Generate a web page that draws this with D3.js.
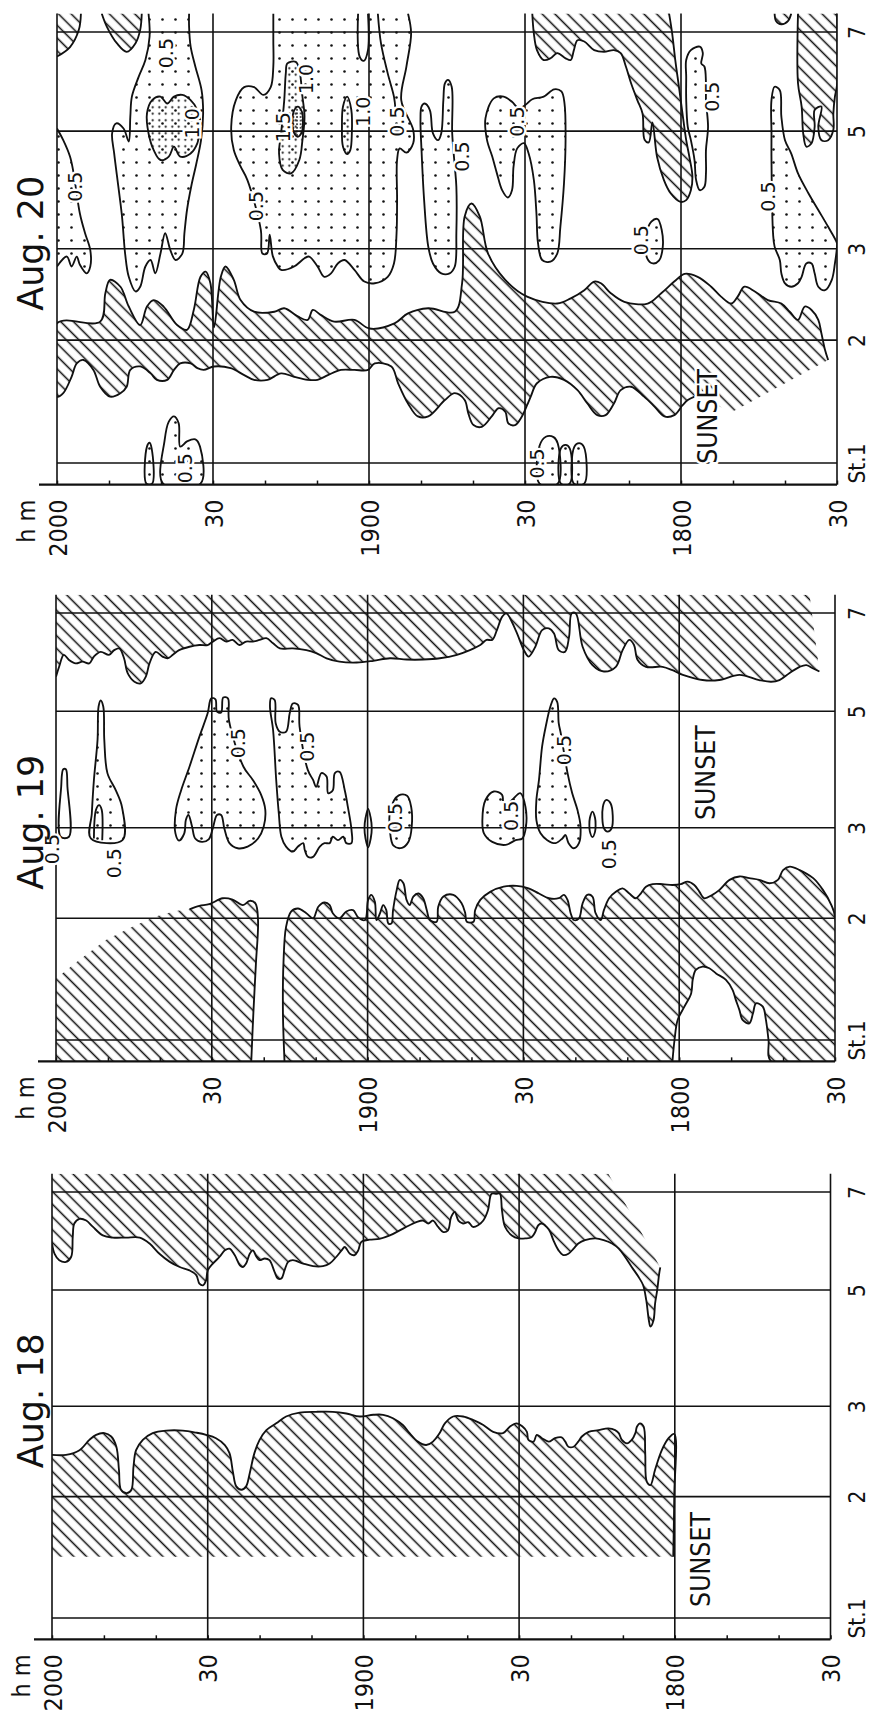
<!DOCTYPE html>
<html><head><meta charset="utf-8">
<script src="https://cdn.jsdelivr.net/npm/d3@7"></script>
<style>body{margin:0;background:#fff}svg{display:block}</style>
</head><body>
<script>
// ---------- DATA (time = minutes after 20:00 going back, station units: St.1 = 0, St.7 = 100) ----------
const timeTicks = [0, 30, 60, 90, 120, 150];
const timeLabels = ["2000", "30", "1900", "30", "1800", "30"];
const minorTicks = d3.range(0, 151, 10);
const stationNames = ["St.1", "2", "3", "5", "7"];
const stationPos = [0, 28.5, 49.7, 77.0, 100];
const panelTitles = ["Aug. 20", "Aug. 19", "Aug. 18"];
const sunsetAt = [[125, -0.2], [125, 51.5], [125, 2.6]];

// ---- Aug. 20 : hatched areas ----
const aug20BandLower = [[0,15.4],[1.2,16.2],[2.8,20.0],[3.8,23.1],[5.1,23.9],[7.0,21.6],[8.3,17.7],[10.2,15.4],[12.2,16.2],[13.4,17.7],[14.1,21.6],[16.0,22.4],[18.0,20.8],[19.2,19.3],[21.2,19.3],[22.5,21.6],[23.7,23.1],[25.7,23.1],[27.0,22.0],[28.2,21.6],[30.2,22.4],[33.4,22.0],[36.0,20.4],[37.9,19.3],[40.5,19.3],[43.1,20.8],[45.6,20.0],[48.2,19.3],[50.1,19.3],[52.1,20.4],[54.6,21.6],[57.2,21.6],[59.8,21.6],[61.1,23.1],[64.3,22.4],[65.6,18.5],[67.5,13.8],[69.4,10.8],[71.4,10.8],[74.6,14.6],[76.5,16.2],[78.4,14.6],[79.1,11.5],[80.1,8.8],[81.7,8.4],[83.6,10.8],[84.9,12.7],[86.2,11.9],[86.8,9.2],[88.1,8.8],[89.4,10.8],[90.4,13.4],[91.1,15.4],[92.3,18.5],[94.9,20.0],[97.5,19.3],[100.1,16.9],[102.0,13.8],[103.9,11.1],[105.5,11.1],[107.1,13.8],[108.4,16.9],[110.4,17.7],[112.9,15.4],[114.9,13.1],[116.8,10.8],[118.7,11.1],[120.3,13.4],[121.3,14.6],[122.6,15.4]];
const aug20BandUpper = [[0,32.4],[8.3,32.8],[9.3,39.4],[10.2,42.5],[12.2,40.9],[13.8,36.3],[16.0,32.0],[17.3,36.3],[18.6,37.8],[20.5,36.3],[23.1,32.0],[25.0,30.9],[26.3,35.5],[27.6,43.2],[28.6,44.4],[29.5,41.7],[30.2,31.5],[31.5,43.2],[32.4,45.6],[34.0,42.5],[35.3,37.8],[37.9,35.1],[41.8,35.1],[43.7,35.9],[46.3,34.0],[48.2,33.2],[49.2,35.5],[50.8,34.3],[53.3,32.8],[57.2,33.2],[60.1,31.2],[64.9,32.4],[67.5,34.7],[71.4,35.9],[76.5,35.1],[77.9,41.7],[78.4,57.2],[79.7,60.2],[81.3,57.2],[82.9,48.6],[86.2,42.5],[90.4,38.6],[96.2,37.0],[98.8,38.2],[101.4,40.1],[103.3,42.1],[104.6,41.7],[106.5,39.4],[109.1,37.4],[113.6,37.0],[116.2,39.4],[118.7,42.1],[120.7,43.9],[123.2,43.2],[125.8,40.9],[127.7,38.6],[129.7,37.0],[130.9,38.6],[132.2,40.9],[134.2,39.8],[136.7,37.8],[139.3,37.0],[140.9,35.1],[142.5,33.2],[143.8,36.3],[145.1,35.5],[146.4,33.2],[147.0,30.1],[147.7,26.2],[148.3,23.9]];
const aug20BandOpen = [[129.9,11.9]];
const aug20Corner = [[0,94.3],[2.5,96.5],[4.2,100.5],[4.6,104.3]];
const aug20CornerOpen = [[0,104.3]];
const aug20TopBlob = [[8.6,104.3],[9.6,101.2],[11.5,97.4],[13.4,95.4],[15.1,97.4],[16.0,100.5],[16.3,104.3]];
const aug20Diagonal = [[91.4,104.3],[91.7,99.7],[92.3,95.8],[93.6,93.5],[94.9,93.9],[96.2,95.1],[97.8,93.9],[98.8,93.5],[99.4,95.8],[100.1,98.1],[101.4,97.8],[103.3,95.8],[105.2,95.4],[107.1,95.8],[108.4,95.1],[109.4,92.0],[110.4,88.1],[111.6,84.2],[112.6,81.1],[113.0,75.0],[113.8,74.4],[114.5,79.0],[115.4,71.0],[116.7,65.7],[118.0,62.6],[119.9,60.6],[121.0,61.0],[121.9,63.3],[122.2,66.4],[121.6,71.1],[121.0,74.9],[120.2,81.9],[119.6,87.3],[118.9,93.5],[118.3,99.7],[117.7,104.3]];
const aug20RightSmall = [[138.0,104.3],[138.3,102.5],[139.3,101.8],[140.6,102.6],[141.2,104.3]];
const aug20RightEdge = [[142.5,104.3],[142.5,88.1],[143.2,82.7],[143.5,76.5],[144.1,73.4],[145.1,74.2],[145.7,78.0],[145.7,81.9],[147.0,82.7],[146.4,78.0],[147.0,74.9],[148.3,74.9],[149.3,77.3],[149.3,81.1],[149.6,85.0],[150,87.7],[150,104.3]];

// ---- Aug. 20 : dotted (plankton) contours ----
const aug20C1 = [[0,77.6],[1.2,74.9],[2.5,71.1],[3.2,67.2],[4.4,57.9],[5.4,53.3],[6.4,49.4],[6.4,45.6],[5.7,44.0],[4.4,46.0],[3.8,47.9],[2.8,45.6],[1.9,47.9],[0,45.6]];
const aug20C2 = [[17.6,104.3],[17.8,98.9],[17.0,93.5],[15.7,89.6],[14.4,85.0],[14.1,80.4],[13.8,74.6],[12.8,77.6],[11.4,78.8],[10.6,76.5],[11.0,71.8],[11.8,64.1],[12.5,57.2],[13.1,48.6],[13.8,43.2],[15.1,39.8],[16.0,40.9],[17.0,45.6],[18.0,47.1],[18.9,44.0],[19.9,48.6],[20.8,53.3],[21.8,49.4],[22.8,47.1],[24.1,48.6],[24.5,53.3],[25.0,58.7],[25.8,64.1],[26.8,69.5],[27.7,74.9],[28.1,81.1],[27.8,86.5],[26.6,92.0],[25.7,96.6],[25.4,101.2],[25.4,104.3]];
const aug20C2in = [[18.3,84.2],[19.9,85.0],[21.2,83.4],[22.5,85.0],[24.1,85.4],[25.7,84.2],[27.0,81.9],[27.6,78.0],[27.0,74.2],[25.7,71.8],[23.7,71.1],[22.5,73.4],[21.5,71.1],[19.9,70.3],[18.6,72.6],[17.6,76.5],[17.3,81.1]];
const aug20C3 = [[67.5,104.3],[68.1,99.7],[67.2,92.0],[66.2,84.2],[68.5,77.3],[68.5,74.2],[67.2,72.0],[65.9,73.0],[65.4,70.3],[65.4,61.0],[65.3,53.3],[64.8,46.3],[63.6,43.2],[61.1,41.7],[59.1,42.1],[57.2,44.8],[55.3,47.1],[54.0,46.3],[52.7,44.0],[51.4,43.2],[50.1,45.6],[48.5,47.9],[47.6,47.5],[45.6,45.6],[43.1,44.8],[42.5,45.5],[41.5,48.0],[40.9,53.0],[40.4,48.6],[39.5,48.6],[39.2,54.1],[36.6,65.7],[35.3,68.8],[34.0,72.6],[33.5,78.0],[34.4,84.2],[36.0,87.2],[37.9,87.2],[39.7,85.4],[41.1,87.2],[41.6,92.0],[41.6,98.1],[41.6,104.3]];
const aug20C3in = [[44.3,92.7],[45.9,93.1],[46.6,91.2],[47.2,85.0],[47.6,80.4],[47.2,74.9],[46.6,70.3],[45.0,67.2],[43.4,68.0],[42.7,71.8],[43.1,76.5],[43.7,84.2],[44.0,90.4]];
const aug20C3core = [[46.3,82.7],[47.1,81.5],[47.3,79.2],[47.1,76.8],[46.3,75.7],[45.5,76.8],[45.3,79.2],[45.5,81.5]];
const aug20C3in2 = [[55.8,85.0],[56.6,81.9],[56.7,76.5],[56.4,72.6],[55.8,71.7],[55.0,73.4],[54.8,78.0],[55.0,82.7]];
const aug20C4 = [[70.1,82.7],[70.7,83.4],[71.7,81.9],[72.3,76.5],[73.3,74.9],[73.9,76.5],[74.3,84.2],[74.6,88.1],[75.2,88.9],[75.9,87.3],[76.0,76.5],[76.5,68.8],[76.8,64.1],[76.8,53.3],[76.5,45.6],[75.5,44.0],[73.9,44.0],[72.3,46.3],[71.4,50.2],[70.6,61.0],[70.1,72.6],[69.9,79.6]];
const aug20C5 = [[84.0,84.6],[85.9,85.0],[87.5,83.8],[88.8,82.3],[90.1,83.1],[91.4,84.4],[93.6,85.0],[95.6,86.7],[97.0,86.2],[97.6,83.4],[97.8,74.9],[97.5,64.9],[96.8,54.8],[96.2,48.6],[94.9,46.7],[93.3,47.1],[92.5,51.0],[92.2,57.9],[91.7,65.7],[90.7,71.8],[89.8,74.2],[88.5,73.0],[87.8,68.8],[87.5,63.3],[86.7,61.6],[85.6,63.3],[84.6,67.2],[83.7,71.1],[82.7,74.9],[82.4,80.0]];
const aug20C6 = [[121.0,93.5],[121.9,95.8],[123.6,96.6],[124.2,95.1],[123.9,92.7],[124.5,92.0],[124.8,88.1],[124.8,84.2],[125.2,78.0],[124.8,72.6],[124.8,67.2],[124.5,64.1],[123.6,63.3],[122.9,65.7],[122.6,70.3],[121.9,74.9],[121.3,78.0],[121.0,84.2],[121.0,89.6]];
const aug20C7 = [[138.0,87.3],[139.0,86.5],[139.3,80.4],[140.0,74.9],[141.2,71.8],[142.5,67.2],[144.5,62.6],[146.4,58.7],[148.3,54.8],[150,51.0],[150,50.2],[149.6,46.3],[149.0,42.5],[147.7,40.1],[146.4,40.9],[145.7,44.0],[145.1,46.3],[144.1,46.3],[143.2,43.2],[142.5,41.7],[141.2,40.9],[140.0,41.7],[139.3,44.0],[139.0,47.1],[138.0,50.2],[137.7,53.3],[137.4,70.3],[137.4,76.5],[137.4,84.2]];
const aug20C8 = [[114.3,56.0],[115.5,56.6],[116.3,54.0],[116.5,50.2],[115.8,47.0],[114.6,46.3],[113.5,47.5],[113.3,53.0]];
const aug20B1 = [[17.2,-4.8],[17.3,3.8],[17.8,4.7],[18.2,3.4],[18.3,-4.8]];
const aug20B2 = [[20.4,-4.8],[20.7,5.3],[21.5,9.6],[22.5,10.8],[23.4,9.2],[23.7,3.8],[25.0,5.0],[26.6,5.5],[27.5,3.8],[27.6,-4.8]];
const aug20B3 = [[92.8,-4.8],[92.8,4.0],[94.0,6.1],[95.5,6.0],[96.3,4.5],[96.3,-4.8]];
const aug20B4 = [[96.9,-4.8],[96.9,3.4],[97.8,4.2],[98.6,3.4],[98.6,-4.8]];
const aug20B5 = [[99.4,-4.8],[99.5,3.8],[100.4,4.6],[101.3,3.8],[101.4,-4.8]];
const aug20Notch = [[57.9,104.3],[58.2,94.3],[59.0,93.3],[59.8,95.8],[59.8,104.3]];
const aug20Vline = [[61.7,104.3],[62.3,97.4],[63.6,90.4],[64.8,85.0],[65.1,81.9]];
const aug20Labels = [[3.5,64.1,"0.5"],[21.0,95.1,"0.5"],[26.0,78.8,"1.0"],[38.2,59.6,"0.5"],[43.5,77.9,"1.5"],[47.9,89.1,"1.0"],[58.8,81.5,"1.0"],[65.3,79.2,"0.5"],[77.9,71.1,"0.5"],[88.5,79.2,"0.5"],[125.9,85.0,"0.5"],[136.7,61.8,"0.5"],[112.3,51.7,"0.5"],[24.5,-1.2,"0.5"],[92.3,-0.1,"0.5"]];

// ---- Aug. 19 ----
const aug19TopEdge = [[0,85.1],[0.6,87.4],[1.5,90.2],[2.5,89.0],[3.8,88.2],[5.1,88.6],[6.4,88.2],[7.3,89.8],[8.6,90.9],[10.2,90.2],[11.2,91.3],[12.2,91.7],[13.1,89.4],[13.8,85.9],[15.1,83.9],[16.3,83.5],[17.3,85.1],[18.0,88.2],[19.2,90.9],[20.5,89.8],[21.5,89.4],[22.5,90.2],[23.7,91.3],[25.7,92.1],[27.6,92.5],[29.2,92.5],[30.2,93.3],[31.5,94.1],[32.8,93.3],[34.0,93.7],[35.3,92.5],[36.6,93.3],[37.9,93.3],[39.2,93.7],[40.5,94.1],[41.8,92.9],[43.1,91.7],[45.6,91.7],[48.2,91.3],[50.1,90.6],[52.1,89.4],[54.6,88.6],[57.9,88.4],[61.1,88.8],[64.3,89.4],[67.5,89.1],[70.7,89.1],[73.9,89.4],[77.2,90.2],[79.7,91.3],[81.7,92.5],[82.9,93.7],[84.0,93.7],[84.9,96.0],[85.9,99.1],[86.7,99.9],[88.5,96.0],[90.1,91.3],[91.0,89.8],[92.3,92.1],[93.6,96.0],[94.9,96.4],[95.9,95.2],[96.8,91.3],[98.0,90.9],[98.8,94.5],[99.3,99.9],[100.1,99.9],[101.4,92.1],[103.3,87.8],[105.5,86.3],[107.8,87.4],[109.1,91.3],[110.4,93.7],[111.3,92.5],[112.0,89.0],[113.6,87.4],[116.8,87.4],[118.7,86.6],[120.7,85.5],[124.5,84.3],[127.7,84.3],[131.6,85.5],[135.4,84.3],[137.7,83.9],[139.3,84.3],[141.2,85.9],[143.2,87.4],[144.5,87.8],[145.8,87.0],[147.0,86.3]];
const aug19TopOpen = [[145.1,104.3],[0,104.3]];
const aug19LeftEdge = [[25.7,30.6],[27.6,31.4],[29.5,31.8],[32.1,33.2],[34.0,32.9],[36.0,31.6],[37.3,32.6],[38.4,32.0],[38.9,28.1],[38.5,18.0],[38.0,6.2],[37.6,-5.0]];
const aug19LeftOpen = [[0,-5.0],[0,14.4],[4.4,18.7],[9.6,23.4],[14.7,26.5],[19.2,28.9],[23.0,30.2]];
const aug19MainEdge = [[44.0,-5.0],[43.7,6.2],[43.8,18.0],[44.3,26.5],[45.3,30.1],[46.6,30.8],[48.2,29.7],[49.5,28.5],[50.5,31.2],[51.7,32.2],[52.7,31.6],[53.3,29.7],[54.6,28.5],[55.9,30.1],[57.2,30.4],[58.2,28.7],[59.5,28.1],[60.1,32.8],[60.7,34.0],[61.4,32.4],[61.7,28.1],[62.4,29.7],[63.0,31.6],[63.6,30.4],[64.0,27.3],[64.6,27.3],[64.9,30.4],[65.6,35.1],[66.2,37.5],[66.9,36.7],[67.5,32.8],[68.1,31.6],[68.8,33.6],[69.8,34.3],[70.7,33.2],[71.4,30.4],[72.0,28.1],[73.3,27.7],[73.6,31.2],[74.6,33.6],[76.5,34.0],[78.1,32.0],[78.8,29.7],[79.1,27.7],[80.4,27.7],[80.7,30.4],[81.7,32.8],[83.6,34.7],[86.2,35.9],[88.7,36.1],[91.0,35.5],[93.0,34.3],[94.9,33.2],[96.8,33.2],[97.8,34.0],[98.5,32.8],[99.1,29.7],[99.7,28.1],[100.7,28.5],[101.4,32.0],[102.3,34.0],[103.3,33.6],[103.9,29.7],[104.9,28.1],[105.5,30.4],[106.5,33.2],[107.8,34.7],[109.1,35.5],[110.4,34.3],[111.6,33.2],[112.6,34.3],[113.6,35.9],[114.9,36.5],[116.8,36.5],[118.7,36.3],[120.3,36.5],[121.6,37.1],[122.9,36.3],[123.9,34.7],[124.8,33.2],[126.4,34.0],[127.7,35.1],[129.7,37.5],[131.6,38.3],[133.5,37.9],[135.4,37.5],[137.4,36.7],[139.0,37.5],[140.0,39.8],[141.3,40.6],[143.2,39.8],[145.8,37.9],[147.7,35.1],[149.3,31.6],[150,28.9],[150,-5.0],[137.7,-5.0],[137.2,0],[136.7,4.7],[136.1,7.8],[134.8,8.6],[134.2,6.2],[133.5,3.9],[132.2,4.7],[131.6,7.0],[130.9,9.4],[130.3,11.7],[129.0,14.1],[127.1,15.6],[125.8,16.8],[124.5,17.2],[123.2,16.4],[122.6,14.1],[122.3,10.9],[121.0,7.8],[119.7,4.7],[119.1,0],[118.7,-5.0]];
const aug19D1 = [[0.9,47.6],[1.0,59.3],[1.4,63.4],[1.9,63.4],[2.2,59.3],[2.5,47.6]];
const aug19D2 = [[6.7,47.2],[6.9,53.1],[7.3,60.9],[8.0,70.3],[8.2,78.1],[8.6,79.5],[9.1,78.1],[9.3,70.3],[9.9,62.5],[11.5,58.5],[12.7,54.6],[12.8,46.8]];
const aug19D2line = [[7.3,47.2],[7.7,53.9],[8.3,55.0],[8.8,53.9],[8.9,46.8]];
const aug19D3 = [[29.2,76.5],[29.9,80.0],[30.7,79.8],[31.0,76.9],[31.8,76.7],[32.2,80.2],[33.1,80.0],[33.3,74.9],[36.1,64.0],[37.9,60.9],[39.5,57.4],[40.3,53.9],[40.0,50.0],[38.9,47.2],[36.9,45.3],[35.0,44.9],[33.4,46.1],[32.4,49.6],[31.8,52.7],[31.0,52.7],[30.2,49.6],[29.4,47.0],[28.1,46.4],[26.8,47.2],[26.2,50.0],[25.5,52.7],[25.0,51.5],[24.7,48.4],[23.7,46.7],[23.0,48.4],[23.1,53.9],[24.1,58.5],[25.7,64.0],[27.6,71.0]];
const aug19D4 = [[41.4,80.0],[42.1,79.6],[42.3,74.2],[43.1,72.2],[44.3,72.2],[45.0,76.5],[45.6,78.8],[46.6,78.5],[46.9,73.4],[48.5,63.2],[49.5,60.9],[50.1,59.3],[51.1,62.5],[52.1,61.7],[52.4,57.8],[53.3,58.5],[53.7,62.5],[54.6,62.8],[55.6,58.5],[56.2,54.6],[56.9,49.2],[56.9,46.1],[55.9,46.1],[55.3,47.6],[54.3,46.8],[53.3,47.6],[52.7,46.1],[51.7,46.1],[50.8,45.3],[49.5,42.9],[48.5,42.9],[47.9,44.5],[47.6,46.1],[46.6,45.3],[45.6,44.1],[44.3,45.3],[43.4,47.6],[42.9,53.1],[42.4,60.9],[41.8,72.6],[41.2,78.1]];
const aug19D5 = [[60.1,54.1],[60.6,52.0],[60.8,49.6],[60.6,47.2],[60.1,45.1],[59.6,47.2],[59.4,49.6],[59.6,52.0]];
const aug19D6 = [[66.0,57.3],[67.6,57.2],[68.4,54.5],[68.5,50.0],[67.9,46.5],[66.6,45.0],[65.0,45.5],[64.3,49.0],[64.4,54.0]];
const aug19D7 = [[82.1,51.5],[82.7,56.2],[84.3,58.2],[85.9,57.4],[86.2,54.6],[87.8,56.2],[89.4,57.8],[90.4,54.6],[90.5,50.0],[89.8,47.2],[88.5,46.8],[86.6,45.7],[84.0,46.4],[82.4,48.4]];
const aug19D8 = [[95.9,80.0],[96.5,79.2],[96.8,74.2],[97.2,71.8],[98.5,62.5],[99.4,57.8],[100.4,53.9],[101.0,50.0],[100.7,46.1],[99.7,44.9],[98.7,46.1],[98.1,48.0],[97.5,47.2],[96.2,46.1],[94.6,46.8],[93.3,48.4],[92.5,51.5],[92.5,56.2],[93.0,60.9],[93.6,68.7],[94.3,73.4],[95.2,78.1]];
const aug19D9 = [[103.3,53.5],[103.8,52.0],[103.9,50.4],[103.8,48.8],[103.3,47.5],[102.8,48.8],[102.7,50.4],[102.8,52.0]];
const aug19D10 = [[105.5,49.6],[105.3,54.6],[105.9,56.2],[106.8,55.4],[107.0,49.6],[106.2,48.8]];
const aug19Labels = [[-0.8,44.7,"0.5"],[11.2,41.4,"0.5"],[35.0,69.5,"0.5"],[48.2,68.7,"0.5"],[65.3,52.0,"0.5"],[87.5,52.5,"0.5"],[97.8,67.9,"0.5"],[106.5,43.5,"0.5"]];

// ---- Aug. 18 ----
const aug18BandEdge = [[0,38.3],[2.7,38.3],[5.3,39.4],[7.2,41.8],[8.5,43.0],[10.1,43.4],[11.4,42.6],[12.4,40.2],[12.9,34.8],[13.3,30.1],[14.4,29.3],[15.3,30.1],[15.7,35.5],[16.2,39.4],[17.5,41.8],[19.4,43.4],[22.0,44.0],[25.2,44.0],[27.8,43.5],[29.7,43.0],[31.6,42.2],[33.3,40.6],[34.2,38.7],[34.9,34.0],[35.5,30.9],[36.5,30.1],[37.4,30.9],[38.1,34.0],[39.0,38.7],[40.0,41.8],[41.3,44.1],[43.2,45.7],[45.1,47.3],[47.7,48.2],[50.9,48.4],[54.1,48.4],[56.7,48.0],[59.3,47.3],[61.9,47.7],[63.8,47.7],[65.7,46.9],[67.6,45.3],[68.9,43.4],[70.5,41.4],[72.1,40.6],[73.4,41.4],[74.7,43.4],[75.7,45.7],[77.3,47.3],[79.2,47.3],[81.1,46.5],[83.1,45.3],[85.0,43.7],[86.9,43.4],[88.2,44.9],[89.5,45.7],[90.6,45.0],[91.5,43.7],[91.8,41.8],[92.8,41.4],[93.4,43.0],[94.4,42.2],[95.7,41.4],[96.9,42.2],[98.2,42.4],[98.9,41.4],[99.5,40.2],[100.5,40.2],[101.4,41.4],[102.1,42.6],[103.4,43.7],[105.3,44.1],[107.2,44.5],[108.5,44.1],[109.2,43.4],[109.8,41.8],[110.8,41.0],[111.7,41.8],[112.4,43.4],[112.7,44.9],[113.3,45.7],[114.0,44.9],[114.3,38.7],[114.6,32.0],[115.3,31.2],[116.2,34.8],[117.5,39.4],[118.8,42.2],[119.9,43.2],[119.9,28.9],[119.7,14.4]];
const aug18BandOpen = [[0,14.4]];
const aug18TopEdge = [[0,87.9],[0.5,85.5],[1.4,84.0],[2.7,83.6],[3.7,84.8],[4.0,89.5],[4.3,92.6],[5.3,93.7],[6.6,93.3],[7.9,91.8],[9.8,89.8],[11.7,89.3],[14.3,89.3],[16.9,89.3],[18.8,87.9],[20.7,85.5],[22.7,83.6],[24.6,82.4],[26.5,81.6],[27.8,80.5],[28.4,78.5],[29.1,78.1],[29.7,79.3],[30.0,81.6],[31.0,83.2],[32.3,84.8],[33.3,86.3],[34.2,86.7],[35.2,85.2],[36.2,82.8],[36.8,82.4],[37.4,83.2],[38.1,85.5],[38.7,86.3],[39.4,84.8],[40.0,84.0],[41.0,84.4],[41.9,84.0],[42.9,81.2],[43.5,79.7],[44.2,79.7],[44.8,81.6],[45.5,83.6],[46.4,84.0],[48.4,83.2],[50.3,82.6],[52.2,82.6],[53.5,83.2],[54.8,84.8],[55.8,86.3],[56.4,87.1],[57.4,85.5],[58.3,85.2],[59.0,86.3],[59.6,88.3],[61.2,88.8],[63.1,89.0],[65.1,89.8],[67.0,91.0],[68.9,92.2],[70.2,92.9],[71.5,93.3],[72.5,92.6],[73.4,93.3],[74.4,91.8],[75.4,90.6],[76.3,91.0],[76.9,94.1],[77.6,95.3],[78.3,93.3],[79.2,92.6],[80.2,92.9],[81.1,91.8],[82.1,92.2],[83.1,93.3],[84.0,95.7],[84.7,99.6],[85.6,99.6],[86.3,99.6],[86.7,95.7],[87.3,91.8],[88.6,89.8],[89.9,89.1],[91.2,89.1],[92.4,89.4],[93.1,90.6],[93.7,92.2],[94.4,92.6],[95.3,91.8],[96.0,90.6],[96.6,88.7],[97.6,86.3],[98.5,85.2],[99.5,85.5],[100.5,86.7],[101.4,87.9],[102.7,88.7],[104.7,89.1],[106.3,88.7],[107.9,87.9],[109.2,86.7],[110.4,84.8],[111.7,82.4],[113.0,80.1],[113.9,78.1],[114.5,74.6],[115.0,69.9],[115.3,68.4],[115.9,69.9],[116.2,73.8],[116.6,76.9],[117.0,80.9],[117.2,82.3]];
const aug18TopOpen = [[113.0,91.8],[107.2,104.3],[0,104.3]];

// ---------- RENDERING ----------
const W = 872, H = 1719, S_TOP = 104.3, S_BASE = -5;
const FONT = "'DejaVu Sans', Verdana, sans-serif";
const INK = "#111";
const svg = d3.select("body").append("svg").attr("width", W).attr("height", H).attr("viewBox", `0 0 ${W} ${H}`);
svg.append("rect").attr("width", W).attr("height", H).attr("fill", "#fff");
const defs = svg.append("defs");

const hp = defs.append("pattern").attr("id", "hatch").attr("patternUnits", "userSpaceOnUse")
  .attr("width", 9).attr("height", 9).attr("patternTransform", "rotate(45)");
hp.append("line").attr("x1", -1).attr("x2", 10).attr("y1", 4.5).attr("y2", 4.5).attr("stroke", INK).attr("stroke-width", 1.55);
function dotPattern(id, gap, r) {
  const p = defs.append("pattern").attr("id", id).attr("patternUnits", "userSpaceOnUse").attr("width", gap).attr("height", gap);
  p.append("circle").attr("cx", gap / 2).attr("cy", gap / 2).attr("r", r).attr("fill", INK);
}
dotPattern("dots", 13, 1.3);
dotPattern("dots2", 6.5, 1.05);
dotPattern("dots3", 3.6, 0.9);

const H_ = (edge, open) => ({ kind: "hatch", edge, open: open || [] });
const C_ = (pts, fill) => ({ kind: fill || "dots", edge: pts, closed: true });
const O_ = (pts, fill) => ({ kind: fill || "dots", edge: pts, open: [] });
const L_ = (pts) => ({ kind: "line", edge: pts });

const panelRegions = [
  [
    H_(aug20BandLower.slice().reverse().concat(aug20BandUpper), aug20BandOpen),
    H_(aug20Corner, aug20CornerOpen), H_(aug20TopBlob), H_(aug20Diagonal), H_(aug20RightSmall), H_(aug20RightEdge),
    O_(aug20C1), O_(aug20C2), O_(aug20C3), C_(aug20C4), C_(aug20C5), C_(aug20C6), C_(aug20C7), C_(aug20C8),
    C_(aug20B1), C_(aug20B2), C_(aug20B3), C_(aug20B4), C_(aug20B5),
    C_(aug20C2in, "dots2"), C_(aug20C3in, "dots2"), C_(aug20C3in2, "dots2"), C_(aug20C3core, "dots3"),
    L_(aug20Notch), L_(aug20Vline)
  ],
  [
    H_(aug19TopEdge, aug19TopOpen), H_(aug19LeftEdge, aug19LeftOpen), H_(aug19MainEdge),
    C_(aug19D1), C_(aug19D2), C_(aug19D3), C_(aug19D4), C_(aug19D5, "none"), C_(aug19D6), C_(aug19D7), C_(aug19D8),
    C_(aug19D9, "none"), C_(aug19D10, "none"), L_(aug19D2line)
  ],
  [
    H_(aug18BandEdge, aug18BandOpen), H_(aug18TopEdge, aug18TopOpen)
  ]
];
const panelLabels = [aug20Labels, aug19Labels, []];

// layout (pixel frame of each panel)
const frames = [
  { xr: [57, 837], yr: [463, 32] },
  { xr: [56, 835], yr: [1040, 613] },
  { xr: [52, 830.5], yr: [1618, 1192] }
];

frames.forEach((f, i) => {
  const x = d3.scaleLinear().domain([0, 150]).range(f.xr);
  const y = d3.scaleLinear().domain([0, 100]).range(f.yr);
  const yTop = y(S_TOP), yBase = y(S_BASE);
  const g = svg.append("g");
  const clipId = "clip" + i;
  defs.append("clipPath").attr("id", clipId).append("rect")
    .attr("x", x(0)).attr("y", yTop).attr("width", x(150) - x(0)).attr("height", yBase - yTop);

  // grid
  const grid = g.append("g").attr("stroke", INK).attr("stroke-width", 1.6);
  grid.selectAll(".vt").data(timeTicks).join("line")
    .attr("x1", d => x(d)).attr("x2", d => x(d)).attr("y1", yTop).attr("y2", yBase);
  grid.selectAll(".hs").data(stationPos).join("line")
    .attr("x1", x(0)).attr("x2", x(150)).attr("y1", d => y(d)).attr("y2", d => y(d));

  // regions
  const rg = g.append("g").attr("clip-path", `url(#${clipId})`);
  const lineOpen = d3.line().x(p => x(p[0])).y(p => y(p[1])).curve(d3.curveCatmullRom.alpha(0.5));
  const lineClosed = d3.line().x(p => x(p[0])).y(p => y(p[1])).curve(d3.curveCatmullRomClosed.alpha(0.5));
  panelRegions[i].forEach(r => {
    let fillD, strokeD;
    if (r.kind === "line") {
      strokeD = lineOpen(r.edge);
    } else if (r.closed) {
      fillD = strokeD = lineClosed(r.edge);
    } else {
      strokeD = lineOpen(r.edge);
      fillD = strokeD + r.open.map(p => `L${x(p[0])},${y(p[1])}`).join("") + "Z";
    }
    if (fillD && r.kind !== "none") {
      rg.append("path").attr("d", fillD).attr("fill", `url(#${r.kind})`).attr("stroke", "none");
    }
    rg.append("path").attr("d", strokeD).attr("fill", "none").attr("stroke", INK)
      .attr("stroke-width", 1.85).attr("stroke-linejoin", "round");
  });

  // contour value labels
  g.selectAll(".clab").data(panelLabels[i]).join("text")
    .attr("transform", d => `translate(${x(d[0])},${y(d[1])}) rotate(-90) scale(0.95,1)`)
    .attr("text-anchor", "middle").attr("dy", "0.36em")
    .attr("font-family", FONT).attr("font-size", 20).attr("fill", INK)
    .attr("stroke", "#fff").attr("stroke-width", 5).attr("paint-order", "stroke")
    .text(d => d[2]);

  // time axis (bottom), ticks upward, labels rotated
  const ax = d3.axisBottom(x).tickValues(minorTicks).tickSizeInner(-4).tickSizeOuter(0)
    .tickFormat(d => { const k = timeTicks.indexOf(d); return k >= 0 ? timeLabels[k] : ""; });
  const axg = g.append("g").attr("transform", `translate(0,${yBase})`).call(ax);
  axg.select(".domain").remove();
  axg.selectAll(".tick line").attr("stroke", INK).attr("stroke-width", 1.5);
  axg.selectAll(".tick text").attr("transform", "translate(0,15) rotate(-90) scale(0.9,1)").attr("text-anchor", "end")
    .attr("x", 0).attr("y", 0).attr("dy", "0.36em")
    .attr("font-family", FONT).attr("font-size", 25).attr("fill", INK);
  g.append("line").attr("x1", x(0) - 18).attr("x2", x(150)).attr("y1", yBase).attr("y2", yBase)
    .attr("stroke", INK).attr("stroke-width", 2.3);
  g.append("text").attr("transform", `translate(${x(0) - 31},${yBase + 15}) rotate(-90) scale(0.9,1)`)
    .attr("text-anchor", "end").attr("dy", "0.36em")
    .attr("font-family", FONT).attr("font-size", 25).attr("fill", INK).text("h m");

  // station axis (right)
  const sx = d3.axisRight(y).tickValues(stationPos).tickSize(0)
    .tickFormat(d => stationNames[stationPos.indexOf(d)]);
  const sg = g.append("g").attr("transform", `translate(${x(150)},0)`).call(sx);
  sg.select(".domain").remove();
  sg.selectAll(".tick text").attr("transform", `translate(${857 - x(150)},0) rotate(-90) scale(0.88,1)`)
    .attr("text-anchor", "middle").attr("x", 0).attr("y", 0).attr("dy", "0.36em")
    .attr("font-family", FONT).attr("font-size", 23).attr("fill", INK);

  // sunset note
  const ss = sunsetAt[i];
  g.append("text").attr("transform", `translate(${x(ss[0])},${y(ss[1])}) rotate(-90) scale(0.88,1)`)
    .attr("text-anchor", "start").attr("dy", "0.36em")
    .attr("font-family", FONT).attr("font-size", 27).attr("fill", INK)
    .attr("stroke", "#fff").attr("stroke-width", 5).attr("paint-order", "stroke").text("SUNSET");

  // title
  g.append("text").attr("transform", `translate(43,${y(51)}) rotate(-90)`)
    .attr("text-anchor", "middle").attr("font-family", FONT).attr("font-size", 35).attr("fill", INK)
    .text(panelTitles[i]);
});
</script>
</body></html>
